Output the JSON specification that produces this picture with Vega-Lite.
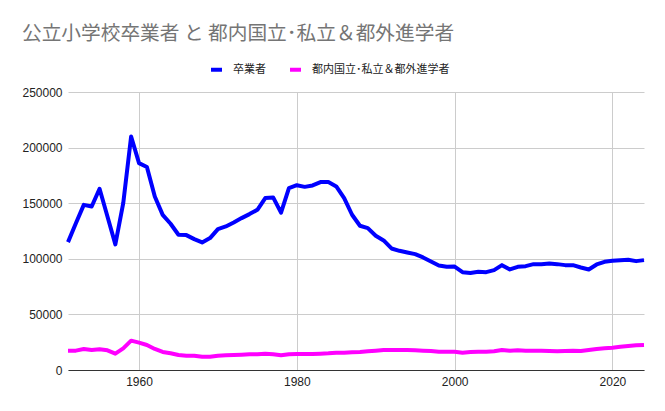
{
  "$schema": "https://vega.github.io/schema/vega-lite/v6.json",
  "width": 576,
  "height": 278,
  "autosize": {"type": "none"},
  "padding": {"left": 68, "top": 92, "right": 21, "bottom": 41},
  "background": "white",
  "title": {
    "text": "公立小学校卒業者 と 都内国立･私立＆都外進学者",
    "anchor": "start",
    "frame": "group",
    "dx": -46,
    "offset": 18,
    "font": "Noto Sans CJK JP",
    "fontSize": 19.7,
    "fontWeight": "normal",
    "color": "#757575"
  },
  "data": {
    "values": [
      {"year": 1951, "grad": 115000, "other": 17400},
      {"year": 1952, "grad": 132000, "other": 17400},
      {"year": 1953, "grad": 148500, "other": 18900},
      {"year": 1954, "grad": 147000, "other": 18000},
      {"year": 1955, "grad": 163000, "other": 18600},
      {"year": 1956, "grad": 138000, "other": 17700},
      {"year": 1957, "grad": 113000, "other": 14700},
      {"year": 1958, "grad": 150000, "other": 19500},
      {"year": 1959, "grad": 210000, "other": 26400},
      {"year": 1960, "grad": 186000, "other": 24600},
      {"year": 1961, "grad": 182500, "other": 22500},
      {"year": 1962, "grad": 156000, "other": 18900},
      {"year": 1963, "grad": 139500, "other": 16200},
      {"year": 1964, "grad": 131500, "other": 15000},
      {"year": 1965, "grad": 121600, "other": 13500},
      {"year": 1966, "grad": 121300, "other": 12900},
      {"year": 1967, "grad": 117700, "other": 12900},
      {"year": 1968, "grad": 114700, "other": 12000},
      {"year": 1969, "grad": 118600, "other": 12000},
      {"year": 1970, "grad": 126700, "other": 12900},
      {"year": 1971, "grad": 129100, "other": 13200},
      {"year": 1972, "grad": 132700, "other": 13500},
      {"year": 1973, "grad": 136600, "other": 13800},
      {"year": 1974, "grad": 140200, "other": 14100},
      {"year": 1975, "grad": 144100, "other": 14100},
      {"year": 1976, "grad": 154600, "other": 14700},
      {"year": 1977, "grad": 155200, "other": 14100},
      {"year": 1978, "grad": 141500, "other": 13200},
      {"year": 1979, "grad": 163600, "other": 14100},
      {"year": 1980, "grad": 166200, "other": 14400},
      {"year": 1981, "grad": 164700, "other": 14400},
      {"year": 1982, "grad": 166000, "other": 14400},
      {"year": 1983, "grad": 169000, "other": 14700},
      {"year": 1984, "grad": 169000, "other": 15000},
      {"year": 1985, "grad": 165100, "other": 15600},
      {"year": 1986, "grad": 154600, "other": 15600},
      {"year": 1987, "grad": 139600, "other": 15900},
      {"year": 1988, "grad": 129700, "other": 16200},
      {"year": 1989, "grad": 127600, "other": 16800},
      {"year": 1990, "grad": 120700, "other": 17400},
      {"year": 1991, "grad": 116500, "other": 18000},
      {"year": 1992, "grad": 109300, "other": 18000},
      {"year": 1993, "grad": 107200, "other": 18000},
      {"year": 1994, "grad": 105700, "other": 18000},
      {"year": 1995, "grad": 104200, "other": 17700},
      {"year": 1996, "grad": 101200, "other": 17400},
      {"year": 1997, "grad": 97600, "other": 17100},
      {"year": 1998, "grad": 94000, "other": 16500},
      {"year": 1999, "grad": 92800, "other": 16500},
      {"year": 2000, "grad": 93000, "other": 16500},
      {"year": 2001, "grad": 88000, "other": 15600},
      {"year": 2002, "grad": 87300, "other": 16200},
      {"year": 2003, "grad": 88300, "other": 16500},
      {"year": 2004, "grad": 88000, "other": 16500},
      {"year": 2005, "grad": 89800, "other": 16800},
      {"year": 2006, "grad": 94300, "other": 18000},
      {"year": 2007, "grad": 90400, "other": 17400},
      {"year": 2008, "grad": 92800, "other": 17700},
      {"year": 2009, "grad": 93400, "other": 17400},
      {"year": 2010, "grad": 95200, "other": 17400},
      {"year": 2011, "grad": 95200, "other": 17400},
      {"year": 2012, "grad": 95800, "other": 17100},
      {"year": 2013, "grad": 95200, "other": 16800},
      {"year": 2014, "grad": 94300, "other": 17100},
      {"year": 2015, "grad": 94300, "other": 17400},
      {"year": 2016, "grad": 92200, "other": 17100},
      {"year": 2017, "grad": 90400, "other": 18000},
      {"year": 2018, "grad": 94900, "other": 18900},
      {"year": 2019, "grad": 97300, "other": 19500},
      {"year": 2020, "grad": 98200, "other": 20100},
      {"year": 2021, "grad": 98800, "other": 21000},
      {"year": 2022, "grad": 99100, "other": 21600},
      {"year": 2023, "grad": 97900, "other": 22200},
      {"year": 2024, "grad": 98800, "other": 22500}
    ]
  },
  "transform": [
    {"fold": ["grad", "other"], "as": ["key", "value"]},
    {"lookup": "key", "from": {"data": {"values": [
      {"key": "grad", "series": "卒業者"},
      {"key": "other", "series": "都内国立･私立＆都外進学者"}
    ]}, "key": "key", "fields": ["series"]}}
  ],
  "mark": {"type": "line", "strokeWidth": 4, "strokeJoin": "round"},
  "encoding": {
    "x": {
      "field": "year",
      "type": "quantitative",
      "scale": {"domain": [1951, 2024], "nice": false, "zero": false},
      "axis": {
        "title": null,
        "values": [1960, 1980, 2000, 2020],
        "format": "d",
        "grid": true,
        "ticks": false,
        "domainColor": "#333333",
        "labelPadding": 6
      }
    },
    "y": {
      "field": "value",
      "type": "quantitative",
      "scale": {"domain": [0, 250000], "nice": false},
      "axis": {
        "title": null,
        "values": [0, 50000, 100000, 150000, 200000, 250000],
        "format": "d",
        "domain": false,
        "ticks": false,
        "labelPadding": 6
      }
    },
    "color": {
      "field": "series",
      "type": "nominal",
      "sort": ["卒業者", "都内国立･私立＆都外進学者"],
      "scale": {"domain": ["卒業者", "都内国立･私立＆都外進学者"], "range": ["#0000ff", "#ff00ff"]},
      "legend": {
        "title": null,
        "orient": "none",
        "direction": "horizontal",
        "legendX": 141,
        "legendY": -30,
        "symbolType": "stroke",
        "symbolStrokeWidth": 4,
        "symbolSize": 120,
        "labelFont": "Noto Sans CJK JP",
        "labelFontSize": 11,
        "labelColor": "#222222",
        "labelOffset": 9,
        "columnPadding": 16
      }
    }
  },
  "config": {
    "view": {"stroke": null},
    "axis": {
      "gridColor": "#cccccc",
      "labelFont": "Liberation Sans",
      "labelFontSize": 12,
      "labelColor": "#222222"
    }
  }
}
